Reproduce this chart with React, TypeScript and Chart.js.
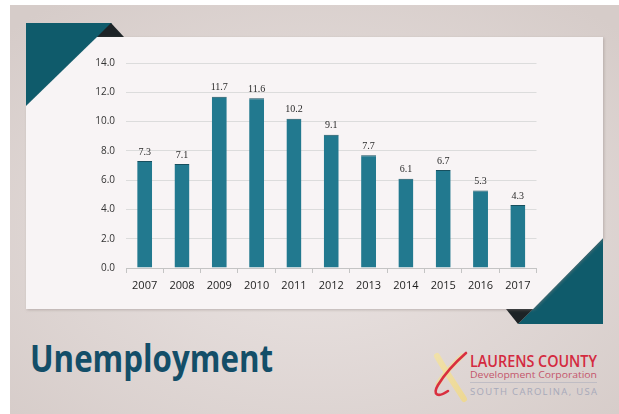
import React, { useEffect, useRef } from "react";
import { Chart, registerables } from "chart.js";

Chart.register(...registerables);

const years = ["2007", "2008", "2009", "2010", "2011", "2012", "2013", "2014", "2015", "2016", "2017"];
const unemploymentRate = [7.3, 7.1, 11.7, 11.6, 10.2, 9.1, 7.7, 6.1, 6.7, 5.3, 4.3];
const yAxisMin = 0;
const yAxisMax = 14;
const yAxisStep = 2;

const BAR_COLOR = "#22798f";
const TEAL = "#0f5b6b";

const valueLabels = {
  id: "valueLabels",
  afterDatasetsDraw(chart: any) {
    const ctx = chart.ctx;
    const meta = chart.getDatasetMeta(0);
    ctx.save();
    ctx.font = '10px "Liberation Serif"';
    ctx.fillStyle = "#2a2a2a";
    ctx.textAlign = "center";
    ctx.textBaseline = "bottom";
    meta.data.forEach((el: any, i: number) => {
      ctx.fillText(unemploymentRate[i].toFixed(1), el.x, el.y - 4);
    });
    ctx.restore();
  },
};

function ChartCanvas() {
  const ref = useRef<HTMLCanvasElement | null>(null);
  useEffect(() => {
    if (!ref.current) return;
    const chart = new Chart(ref.current, {
      type: "bar",
      data: {
        labels: years,
        datasets: [
          {
            data: unemploymentRate,
            backgroundColor: BAR_COLOR,
            borderColor: "#174f5e",
            borderWidth: { top: 1, left: 0, right: 0, bottom: 0 } as any,
            barPercentage: 0.4,
            categoryPercentage: 1,
          },
        ],
      },
      options: {
        animation: false,
        responsive: false,
        devicePixelRatio: 1,
        layout: { padding: { left: 0, right: 82.5, top: 63, bottom: 0 } },
        plugins: { legend: { display: false }, tooltip: { enabled: false }, title: { display: false } },
        scales: {
          x: {
            offset: true,
            grid: { offset: true, drawOnChartArea: false, drawTicks: true, tickLength: 5, color: "#c4c4c4" },
            border: { display: true, color: "#c4c4c4" },
            ticks: {
              autoSkip: false,
              maxRotation: 0,
              padding: 6,
              color: "#1e1e1e",
              font: { family: '"Open Sans"', size: 11 },
            },
            afterFit(scale: any) {
              scale.height = 146;
            },
          },
          y: {
            min: yAxisMin,
            max: yAxisMax,
            grid: { color: "#dcdcdc", drawTicks: false },
            border: { display: false },
            ticks: {
              stepSize: yAxisStep,
              padding: 11,
              color: "#333333",
              font: { family: '"Open Sans"', size: 10 },
              callback: (v: any) => Number(v).toFixed(1),
            },
            afterFit(scale: any) {
              scale.width = 126;
            },
          },
        },
      },
      plugins: [valueLabels],
    });
    return () => chart.destroy();
  }, []);
  return <canvas ref={ref} width={619} height={414} style={{ position: "absolute", left: 0, top: 0 }} />;
}

export default function App() {
  return (
    <div style={{ position: "absolute", left: 0, top: 0, width: 619, height: 414, background: "#ffffff", overflow: "hidden" }}>
      <svg width={619} height={414} style={{ position: "absolute", left: 0, top: 0 }}>
        <defs>
          <radialGradient id="slideBg" cx="50%" cy="55%" r="70%">
            <stop offset="0%" stopColor="#ebe4e3" />
            <stop offset="100%" stopColor="#d6ccc9" />
          </radialGradient>
          <filter id="shadow" x="-5%" y="-5%" width="110%" height="110%">
            <feDropShadow dx="1" dy="1" stdDeviation="1.5" floodColor="#8a7f7c" floodOpacity="0.45" />
          </filter>
          <linearGradient id="logoYellow" x1="0" y1="0" x2="1" y2="1">
            <stop offset="0%" stopColor="#f3e2a0" />
            <stop offset="100%" stopColor="#f0d98a" />
          </linearGradient>
        </defs>
        <rect x={10} y={5} width={609} height={409} fill="url(#slideBg)" />
        <polygon points="26,23 112,23 26,108" fill={TEAL} />
        <polygon points="603,238 603,324 518,324" fill={TEAL} />
        <polygon points="111,23 124,37 97,37" fill="#1d2326" />
        <polygon points="506,309 533,309 518,324" fill="#1d2326" />
        <polygon points="97,37 603,37 603,238 533,309 26,309 26,106" fill="#f8f4f5" filter="url(#shadow)" />
        <text x={30} y={372} fontFamily='"Open Sans"' fontWeight={700} fontSize={37} fill="#134e68" textLength={243} lengthAdjust="spacingAndGlyphs">
          Unemployment
        </text>
        <path d="M437,356 C445,370 455,385 464,399" stroke="url(#logoYellow)" strokeWidth={6} fill="none" strokeLinecap="round" opacity={0.85} />
        <path d="M462,356 C452,366 443,374 438,384" stroke="url(#logoYellow)" strokeWidth={5} fill="none" strokeLinecap="round" opacity={0.7} />
        <path d="M466,353 C458,360 446,372 438,385 C432,395 438,398 448,391" stroke="#d92f3f" strokeWidth={2.6} fill="none" strokeLinecap="round" />
        <text x={470} y={367} fontFamily='"Open Sans"' fontWeight={600} fontSize={17} fill="#d42a3f" textLength={127} lengthAdjust="spacingAndGlyphs">
          LAURENS COUNTY
        </text>
        <text x={470} y={378} fontFamily='"Open Sans"' fontWeight={400} fontSize={9.5} fill="#c4566c" textLength={127} lengthAdjust="spacingAndGlyphs">
          Development Corporation
        </text>
        <line x1={470} y1={382.5} x2={597} y2={382.5} stroke="#b9b7c2" strokeWidth={0.8} />
        <text x={470} y={395} fontFamily='"Open Sans"' fontWeight={400} fontSize={9.5} fill="#a7a9ba" textLength={127} lengthAdjust="spacing">
          SOUTH CAROLINA, USA
        </text>
      </svg>
      <ChartCanvas />
    </div>
  );
}
